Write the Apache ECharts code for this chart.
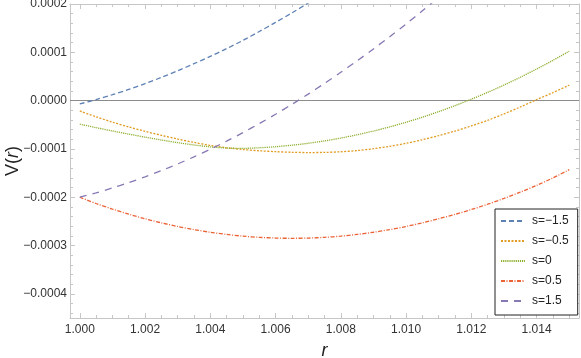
<!DOCTYPE html>
<html>
<head>
<meta charset="utf-8">
<script src="https://cdn.jsdelivr.net/npm/echarts@6/dist/echarts.min.js"></script>
<style>
html,body{margin:0;padding:0;background:#fff;}
#chart{width:581px;height:358px;}
</style>
</head>
<body>
<div id="chart"></div>
<script>
// ---- data ----
const rValues = [1.0000,1.0005,1.0010,1.0015,1.0020,1.0025,1.0030,1.0035,1.0040,1.0045,1.0050,
                 1.0055,1.0060,1.0065,1.0070,1.0075,1.0080,1.0085,1.0090,1.0095,1.0100,
                 1.0105,1.0110,1.0115,1.0120,1.0125,1.0130,1.0135,1.0140,1.0145,1.0150];
const seriesNames = ['s=−1.5','s=−0.5','s=0','s=0.5','s=1.5'];
const vSm15 = [-7e-6,2.2e-6,12.2e-6,23.2e-6,35.2e-6,48.0e-6,61.8e-6,76.4e-6,91.6e-6,107.6e-6,124.6e-6,
               143.0e-6,162.0e-6,181.5e-6,202.0e-6,223.5e-6];
const vSm05 = [-21.4e-6,-33.5e-6,-44.5e-6,-54.5e-6,-63.5e-6,-71.8e-6,-79.5e-6,-86.5e-6,-92.8e-6,-97.6e-6,-101.2e-6,
               -103.8e-6,-105.7e-6,-107.0e-6,-107.5e-6,-107.2e-6,-105.9e-6,-103.4e-6,-99.6e-6,-94.6e-6,-88.4e-6,
               -81.0e-6,-72.5e-6,-63.0e-6,-52.4e-6,-40.8e-6,-27.5e-6,-13.2e-6,2.0e-6,16.5e-6,32.0e-6];
const vS0 = [-48.7e-6,-56.0e-6,-62.8e-6,-69.3e-6,-75.6e-6,-81.5e-6,-87.0e-6,-91.8e-6,-95.8e-6,-98.2e-6,-98.8e-6,
             -97.6e-6,-95.4e-6,-92.3e-6,-88.3e-6,-83.4e-6,-77.5e-6,-70.7e-6,-63.0e-6,-54.3e-6,-44.8e-6,
             -34.3e-6,-22.8e-6,-10.4e-6,2.9e-6,17.1e-6,32.2e-6,48.3e-6,65.4e-6,83.3e-6,102.2e-6];
const vSp05 = [-200e-6,-213e-6,-224.5e-6,-235e-6,-244.5e-6,-253e-6,-260.5e-6,-267e-6,-272.5e-6,-277e-6,-280.5e-6,
               -283e-6,-284.5e-6,-285e-6,-284.5e-6,-283e-6,-280.5e-6,-277e-6,-272.5e-6,-267e-6,-260.5e-6,
               -253e-6,-244.5e-6,-235.5e-6,-225.5e-6,-214.5e-6,-202.5e-6,-189.5e-6,-175.5e-6,-160e-6,-143e-6];
const vSp15 = [-200e-6,-190.9e-6,-180.8e-6,-169.8e-6,-157.8e-6,-144.9e-6,-131.1e-6,-116.3e-6,-100.6e-6,-83.9e-6,-66.3e-6,
               -47.7e-6,-28.2e-6,-7.7e-6,13.5e-6,35.6e-6,58.6e-6,82.4e-6,107.0e-6,132.4e-6,158.6e-6,
               186.0e-6,214.0e-6];
const xTickLabels = [1.000,1.002,1.004,1.006,1.008,1.010,1.012,1.014];
const yTickLabels = [-0.0004,-0.0003,-0.0002,-0.0001,0,0.0001,0.0002];

// ---- styling ----
const FONT = 'Liberation Sans, Arial, sans-serif';
const FRAME = '#c6c6c6';
const colors = ['#5E81B5','#E19C24','#8FB032','#EB6235','#8778B3'];
const dashes = [[5,3],[2,1.5],[1.2,0.9],[4,1.5,1,1.5],[7,6]];
const allValues = [vSm15, vSm05, vS0, vSp05, vSp15];

const xMin = 0.9997, xMax = 1.0153, yMin = -0.00045, yMax = 0.0002;
const xMinor = [], yMinor = [];
for (let i = 0; i <= 31; i++) {
  const v = +(0.9995 + i * 0.0005).toFixed(4);
  if (v > xMin && v < xMax && !xTickLabels.some(t => Math.abs(t - v) < 1e-9)) xMinor.push(v);
}
for (let i = 0; i <= 35; i++) {
  const v = +(-0.00046 + i * 0.00002).toFixed(5);
  if (v > yMin && v < yMax && !yTickLabels.some(t => Math.abs(t - v) < 1e-10)) yMinor.push(v);
}

function fmtY(v) {
  if (Math.abs(v) < 1e-12) v = 0;
  return v.toFixed(4).replace('-', '−');
}

function xAx(pos, ticks, len, labels, line) {
  return {
    type: 'value', position: pos, min: xMin, max: xMax,
    nameMoveOverlap: false,
    axisLine: { show: line, onZero: false, lineStyle: { color: FRAME, width: 1 } },
    axisTick: { show: true, inside: true, length: len, customValues: ticks, lineStyle: { color: FRAME } },
    axisLabel: labels ? { show: true, customValues: ticks, formatter: v => v.toFixed(3), color: '#333',
                          fontFamily: FONT, fontSize: 12, margin: 6 } : { show: false },
    splitLine: { show: false }
  };
}
function yAx(pos, ticks, len, labels, line) {
  return {
    type: 'value', position: pos, min: yMin, max: yMax,
    nameMoveOverlap: false,
    axisLine: { show: line, onZero: false, lineStyle: { color: FRAME, width: 1 } },
    axisTick: { show: true, inside: true, length: len, customValues: ticks, lineStyle: { color: FRAME } },
    axisLabel: labels ? { show: true, customValues: ticks, formatter: fmtY, color: '#333',
                          fontFamily: FONT, fontSize: 12, margin: 3 } : { show: false },
    splitLine: { show: false }
  };
}

const xAxes = [
  xAx('bottom', xTickLabels, 5, true, true),
  xAx('bottom', xMinor, 3, false, false),
  xAx('top', xTickLabels, 5, false, true),
  xAx('top', xMinor, 3, false, false)
];
xAxes[0].name = 'r';
xAxes[0].nameLocation = 'middle';
xAxes[0].nameGap = 24;
xAxes[0].nameTextStyle = { fontFamily: FONT, fontSize: 18, fontStyle: 'italic', color: '#222' };

const yAxes = [
  yAx('left', yTickLabels, 5, true, true),
  yAx('left', yMinor, 3, false, false),
  yAx('right', yTickLabels, 5, false, true),
  yAx('right', yMinor, 3, false, false)
];
yAxes[0].name = '{a|V(}{b|r}{a|)}';
yAxes[0].nameLocation = 'middle';
yAxes[0].nameGap = 48;
yAxes[0].nameRotate = 90;
yAxes[0].nameTextStyle = {
  rich: {
    a: { fontFamily: FONT, fontSize: 18, color: '#222' },
    b: { fontFamily: FONT, fontSize: 18, fontStyle: 'italic', color: '#222' }
  }
};

const series = allValues.map((vals, k) => ({
  name: seriesNames[k],
  type: 'line',
  xAxisIndex: 0, yAxisIndex: 0,
  data: vals.map((v, i) => [rValues[i], v]),
  showSymbol: false, symbol: 'none',
  smooth: 0.3,
  clip: true,
  lineStyle: { color: colors[k], width: 1.3, type: dashes[k] },
  itemStyle: { color: colors[k] },
  z: 3
}));
series[0].markLine = {
  silent: true, symbol: 'none', animation: false,
  label: { show: false },
  lineStyle: { color: '#8c8c8c', type: 'solid', width: 1 },
  data: [{ yAxis: 0 }],
  z: 1
};

const chart = echarts.init(document.getElementById('chart'), null, { renderer: 'canvas' });
chart.setOption({
  animation: false,
  backgroundColor: '#fff',
  grid: { left: 70, right: 2, top: 4, bottom: 40, containLabel: false, outerBoundsMode: 'none' },
  xAxis: xAxes,
  yAxis: yAxes,
  legend: {
    orient: 'vertical', left: 495, top: 209,
    itemWidth: 24, itemHeight: 14, itemGap: 6,
    padding: [5, 9, 7, 5],
    borderColor: '#222', borderWidth: 1, backgroundColor: '#fff',
    itemStyle: { opacity: 0 },
    textStyle: { fontFamily: FONT, fontSize: 12, color: '#222', lineHeight: 14, padding: [0, 0, 0, 2] },
    data: seriesNames
  },
  series: series
});
</script>
</body>
</html>
